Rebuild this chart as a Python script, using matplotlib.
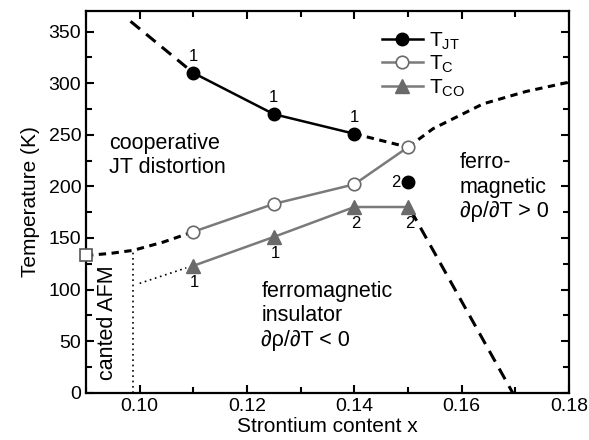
import numpy as np
import matplotlib.pyplot as plt
from matplotlib.ticker import MultipleLocator

plt.rcParams['font.family'] = ['Liberation Sans', 'DejaVu Sans']
plt.rcParams['mathtext.fontset'] = 'custom'
plt.rcParams['mathtext.rm'] = 'Liberation Sans'

# measured transition temperatures
x_jt = [0.11, 0.125, 0.14]
t_jt = [310, 270, 251]
x_c = [0.11, 0.125, 0.14, 0.15]
t_c = [156, 183, 202, 238]
x_co = [0.11, 0.125, 0.14, 0.15]
t_co = [123, 151, 180, 180]
x_extra = [0.15]
t_extra = [204]
x_afm = [0.09]
t_afm = [133]

# sketched phase boundaries
x_jt_up = [0.0983, 0.11]
t_jt_up = [360, 310]
x_jt_mid = [0.14, 0.15]
t_jt_mid = [251, 238]
x_c_left = [0.09, 0.0945, 0.0988, 0.1044, 0.11]
t_c_left = [133, 135, 138, 146, 156]
x_c_right = [0.15, 0.1547, 0.164, 0.172, 0.18]
t_c_right = [238, 256, 280, 292, 301]
x_co_down = [0.1505, 0.1695]
t_co_down = [177, 0]
x_afm_v = [0.0988, 0.0988]
t_afm_v = [0, 137]
x_co_dot = [0.1, 0.1087]
t_co_dot = [106, 121]

# sample-number labels
lbl_up_x = [0.11, 0.125, 0.14]
lbl_up_t = [310, 270, 251]
lbl_up = ['1', '1', '1']
lbl_dn_x = [0.11, 0.125, 0.14, 0.15]
lbl_dn_t = [123, 151, 180, 180]
lbl_dn = ['1', '1', '2', '2']

fig = plt.figure(figsize=(5.89, 4.4), dpi=100)
ax = fig.add_axes([0.146, 0.1075, 0.82, 0.8675])

gray = '#7a7a7a'
dgray = '#6a6a6a'

ax.plot(x_jt_up, t_jt_up, color='black', lw=2.2, dashes=(4, 2.6))
ax.plot(x_jt_mid, t_jt_mid, color='black', lw=2.2, dashes=(2.4, 1.8))
ax.plot(x_c_left, t_c_left, color='black', lw=2.2, dashes=(2.4, 1.8))
ax.plot(x_c_right, t_c_right, color='black', lw=2.2, dashes=(2.4, 1.8))
ax.plot(x_co_down, t_co_down, color='black', lw=2.2, dashes=(4, 2.6))
ax.plot(x_afm_v, t_afm_v, color='black', lw=1.2, dashes=(1, 2.2))
ax.plot(x_co_dot, t_co_dot, color='black', lw=1.2, dashes=(1, 2.2))

ax.plot(x_jt, t_jt, color='black', lw=1.8, marker='o', ms=9,
        label=r'T$_{\mathrm{JT}}$', zorder=5)
ax.plot(x_c, t_c, color=gray, lw=1.8, marker='o', ms=9, mfc='white',
        mec=dgray, mew=1.2, label=r'T$_{\mathrm{C}}$', zorder=5)
ax.plot(x_co, t_co, color=gray, lw=1.8, marker='^', ms=10, mfc=dgray,
        mec=dgray, label=r'T$_{\mathrm{CO}}$', zorder=5)
ax.plot(x_extra, t_extra, 'o', color='black', ms=9, zorder=5)
ax.plot(x_afm, t_afm, 's', ms=9, mfc='white', mec='#555555', mew=1.2,
        clip_on=False, zorder=6)

for xx, tt, s in zip(lbl_up_x, lbl_up_t, lbl_up):
    ax.annotate(s, (xx, tt), xytext=(0, 12), textcoords='offset points',
                ha='center', va='center', fontsize=12)
for xx, tt, s in zip(lbl_dn_x, lbl_dn_t, lbl_dn):
    ax.annotate(s, (xx, tt), xytext=(1, -12), textcoords='offset points',
                ha='center', va='center', fontsize=12)
ax.annotate('2', (x_extra[0], t_extra[0]), xytext=(-9, 0),
            textcoords='offset points', ha='center', va='center', fontsize=12)

ax.text(0.0943, 252, 'cooperative\nJT distortion', fontsize=15.5,
        ha='left', va='top', linespacing=1.2)
ax.text(0.1597, 233, 'ferro-\nmagnetic\n\u2202\u03c1/\u2202T > 0', fontsize=15.5,
        ha='left', va='top', linespacing=1.2)
ax.text(0.1227, 108, 'ferromagnetic\ninsulator\n\u2202\u03c1/\u2202T < 0', fontsize=15.5,
        ha='left', va='top', linespacing=1.2)
ax.text(0.0941, 68, 'canted AFM', fontsize=15.5, rotation=90,
        ha='center', va='center')

ax.set_xlim(0.09, 0.18)
ax.set_ylim(0, 370)
ax.set_xticks([0.10, 0.12, 0.14, 0.16, 0.18])
ax.set_xticklabels(['0.10', '0.12', '0.14', '0.16', '0.18'])
ax.xaxis.set_minor_locator(MultipleLocator(0.01))
ax.set_yticks(np.arange(0, 351, 50))
ax.yaxis.set_minor_locator(MultipleLocator(25))
ax.tick_params(which='both', direction='in', top=True, right=True,
               width=1.5, labelsize=14)
ax.tick_params(which='major', length=6)
ax.tick_params(which='minor', length=4)
for sp in ax.spines.values():
    sp.set_linewidth(1.6)

ax.set_xlabel('Strontium content x', fontsize=15, labelpad=2)
ax.set_ylabel('Temperature (K)', fontsize=15, labelpad=6)

ax.legend(loc='upper left', bbox_to_anchor=(0.612, 0.95), frameon=False,
          fontsize=15, handlelength=2.0, handletextpad=0.3,
          labelspacing=0.1, borderpad=0, borderaxespad=0)

fig.savefig('out.png', dpi=100)
